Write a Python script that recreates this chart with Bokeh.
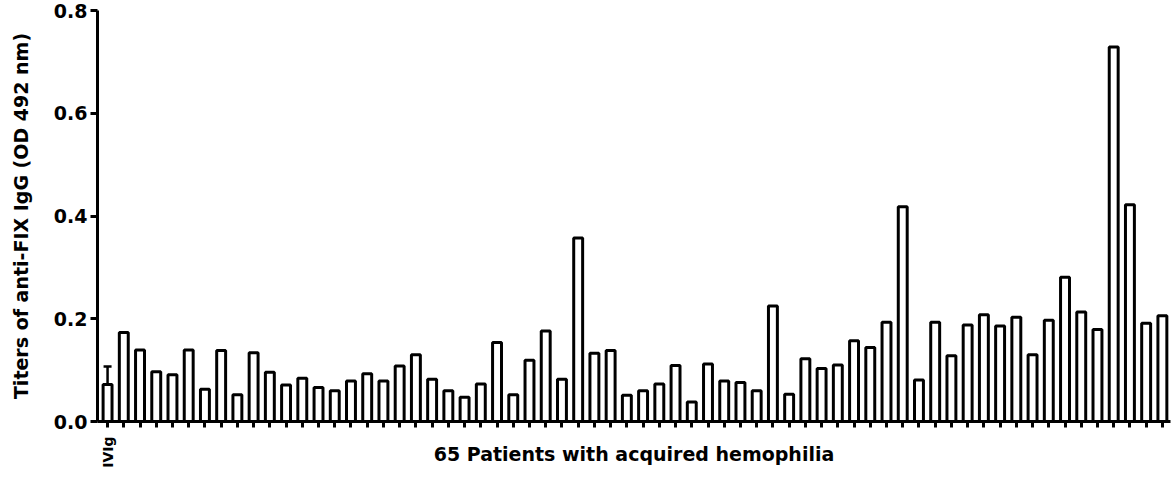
import math
from bokeh.plotting import figure
from bokeh.models import (ColumnDataSource, Range1d, FixedTicker, NumeralTickFormatter,
                          Whisker, TeeHead, CustomJSTickFormatter)
from bokeh.embed import file_html
from bokeh.resources import INLINE

# ---- data -------------------------------------------------------------
tick_labels = ["IVIg"] + [""] * 65
titers = [0.072, 0.173, 0.139, 0.097, 0.091, 0.139, 0.063, 0.138, 0.052, 0.134,
          0.096, 0.071, 0.084, 0.066, 0.060, 0.079, 0.093, 0.079, 0.108, 0.130,
          0.082, 0.060, 0.047, 0.073, 0.154, 0.052, 0.119, 0.176, 0.082, 0.357,
          0.133, 0.138, 0.051, 0.060, 0.073, 0.109, 0.038, 0.112, 0.079, 0.076,
          0.060, 0.225, 0.053, 0.122, 0.103, 0.110, 0.157, 0.144, 0.193, 0.418,
          0.081, 0.193, 0.128, 0.188, 0.208, 0.186, 0.203, 0.130, 0.197, 0.281,
          0.213, 0.179, 0.729, 0.422, 0.191, 0.206]
ivig_error_upper = [0.107]
y_ticks = [0.0, 0.2, 0.4, 0.6, 0.8]

positions = list(range(len(titers)))
src = ColumnDataSource(dict(x=positions, top=titers))
err_src = ColumnDataSource(dict(x=[0], lower=[titers[0]], upper=ivig_error_upper))

FONT = "DejaVu Sans"

p = figure(width=1174, height=480, output_backend="svg", toolbar_location=None,
           x_range=Range1d(-0.62, len(titers) - 0.5), y_range=Range1d(0, 0.8),
           min_border_left=97, min_border_top=10, min_border_right=4, min_border_bottom=59)
p.outline_line_color = None
p.xgrid.visible = False
p.ygrid.visible = False

p.vbar(x="x", top="top", bottom=0, width=0.55, source=src,
       fill_color="white", line_color="black", line_width=3)

p.add_layout(Whisker(base="x", lower="lower", upper="upper", source=err_src,
                     dimension="height", line_width=2.5, line_color="black",
                     upper_head=TeeHead(size=8, line_width=2.5, line_color="black"),
                     lower_head=None))

# y axis
ya = p.yaxis[0]
ya.ticker = FixedTicker(ticks=y_ticks)
ya.formatter = NumeralTickFormatter(format="0.0")
ya.axis_label = "Titers of anti-FIX IgG (OD 492 nm)"
ya.axis_label_text_font = FONT
ya.axis_label_text_font_style = "bold"
ya.axis_label_text_font_size = "19px"
ya.axis_label_text_color = "black"
ya.axis_label_standoff = 19
ya.major_label_text_font = FONT
ya.major_label_text_font_style = "bold"
ya.major_label_text_font_size = "19px"
ya.major_label_text_color = "black"
ya.major_label_standoff = 3
ya.axis_line_width = 3
ya.major_tick_line_width = 3
ya.major_tick_out = 7
ya.major_tick_in = 0
ya.minor_tick_line_color = None

# x axis
xa = p.xaxis[0]
xa.ticker = FixedTicker(ticks=positions)
xa.formatter = CustomJSTickFormatter(args=dict(labels=tick_labels),
                                     code="const i = Math.round(tick); const s = labels[i]; return s == null ? '' : s;")
xa.major_label_orientation = math.pi / 2
xa.major_label_text_font = FONT
xa.major_label_text_font_style = "bold"
xa.major_label_text_font_size = "14px"
xa.major_label_text_color = "black"
xa.major_label_standoff = 9
xa.axis_label = "65 Patients with acquired hemophilia"
xa.axis_label_text_font = FONT
xa.axis_label_text_font_style = "bold"
xa.axis_label_text_font_size = "19px"
xa.axis_label_text_color = "black"
xa.axis_label_standoff = -28
xa.axis_line_width = 3
xa.major_tick_line_width = 3
xa.major_tick_out = 6
xa.major_tick_in = 0
xa.minor_tick_line_color = None

open("out.html", "w").write(file_html(p, INLINE))
